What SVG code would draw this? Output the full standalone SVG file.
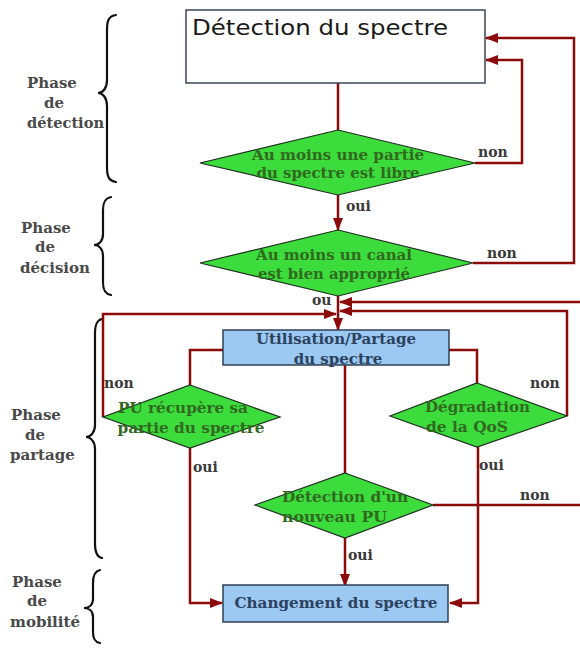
<svg xmlns="http://www.w3.org/2000/svg" width="580" height="648" viewBox="0 0 580 648">
<defs>
<marker id="ah" markerUnits="userSpaceOnUse" markerWidth="13" markerHeight="10" refX="12" refY="5" orient="auto">
<path d="M0,0 L13,5 L0,10 z" fill="#8b0a0a"/>
</marker>
<style>
.c{fill:none;stroke:#8b0a0a;stroke-width:2.5}
.a{marker-end:url(#ah)}
.br{fill:none;stroke:#111;stroke-width:2.2;stroke-linecap:round}
.ph{font-family:"DejaVu Serif",serif;font-weight:bold;font-size:15px;fill:#4a4a4a}
.lb{font-family:"DejaVu Serif",serif;font-weight:bold;font-size:14px;fill:#3a3a3a}
.dm{fill:#3ddc3d;stroke:#1e2e1e;stroke-width:1.2}
.dt{font-family:"DejaVu Serif",serif;font-weight:bold;font-size:15px;fill:#2f6a1f}
.bx{fill:#9cc9f2;stroke:#2f3e55;stroke-width:1.5}
.bt{font-family:"DejaVu Serif",serif;font-weight:bold;font-size:15px;fill:#2b4260}
</style>
</defs>
<rect width="580" height="648" fill="#fff"/>

<g id="phases">
<path class="br" d="M116,15 C109,16 107,20 107,30 L107,80 C107,88 103,93 98,93 C103,93 107,98 107,106 L107,167 C107,177 109,181 116,182"/>
<text class="ph" x="27" y="88">Phase</text><text class="ph" x="44" y="108">de</text><text class="ph" x="27" y="128" textLength="77" lengthAdjust="spacingAndGlyphs">détection</text>
<path class="br" d="M111,197 C105,198 103,202 103,210 L103,234 C103,241 99,245 94,245 C99,245 103,249 103,256 L103,282 C103,290 105,294 111,295"/>
<text class="ph" x="21" y="233">Phase</text><text class="ph" x="35" y="252">de</text><text class="ph" x="20" y="273" textLength="70" lengthAdjust="spacingAndGlyphs">décision</text>
<path class="br" d="M102,319 C97,320 95,324 95,334 L95,425 C95,432 91,437 86,437 C91,437 95,442 95,449 L95,544 C95,553 97,557 102,558"/>
<text class="ph" x="11" y="420">Phase</text><text class="ph" x="25" y="440">de</text><text class="ph" x="10" y="460">partage</text>
<path class="br" d="M100,570 C95,571 93,575 93,583 L93,599 C93,605 89,608 84,608 C89,608 93,611 93,617 L93,632 C93,639 95,642 100,643"/>
<text class="ph" x="12" y="587">Phase</text><text class="ph" x="27" y="606">de</text><text class="ph" x="10" y="627" textLength="70" lengthAdjust="spacingAndGlyphs">mobilité</text>
</g>

<g id="connectors">
<path class="c" d="M338,83 V130"/>
<path class="c a" d="M338,195 V230"/>
<path class="c a" d="M475,163 H522 V60 H486"/>
<path class="c a" d="M473,263 H574 V38 H486"/>
<path class="c a" d="M338,296 V330"/>
<path class="c a" d="M580,302 H340"/>
<path class="c" d="M433,505 H580"/>
<path class="c a" d="M567,416 V311 H340"/>
<path class="c a" d="M103,417 V314 H336"/>
<path class="c" d="M223,350 H190 V385"/>
<path class="c" d="M449,350 H477 V383"/>
<path class="c" d="M345,365 V473"/>
<path class="c a" d="M190,448 V603 H222"/>
<path class="c a" d="M478,447 V603 H450"/>
<path class="c a" d="M345,538 V586"/>
<text class="lb" x="478" y="157">non</text>
<text class="lb" x="346" y="211">oui</text>
<text class="lb" x="487" y="258">non</text>
<text class="lb" x="312" y="305">ou</text>
<text class="lb" x="104" y="388">non</text>
<text class="lb" x="193" y="472">oui</text>
<text class="lb" x="530" y="388">non</text>
<text class="lb" x="479" y="470">oui</text>
<text class="lb" x="520" y="500">non</text>
<text class="lb" x="348" y="560">oui</text>
</g>

<g id="n-detection">
<rect x="186" y="10" width="299" height="73" fill="#fff" stroke="#3a4656" stroke-width="1.5"/>
<text x="192" y="35" font-family="'DejaVu Sans',sans-serif" font-size="21" fill="#1a1a1a" textLength="256" lengthAdjust="spacingAndGlyphs">Détection du spectre</text>
</g>

<g id="n-libre">
<polygon class="dm" points="338,130 475,163 338,195 200,163"/>
<text class="dt" x="338" y="160" text-anchor="middle" textLength="172" lengthAdjust="spacingAndGlyphs">Au moins une partie</text>
<text class="dt" x="338" y="178" text-anchor="middle" textLength="163" lengthAdjust="spacingAndGlyphs">du spectre est libre</text>
</g>

<g id="n-canal">
<polygon class="dm" points="338,230 473,263 338,296 200,263"/>
<text class="dt" x="334" y="260" text-anchor="middle" textLength="156" lengthAdjust="spacingAndGlyphs">Au moins un canal</text>
<text class="dt" x="334" y="279" text-anchor="middle" textLength="152" lengthAdjust="spacingAndGlyphs">est bien approprié</text>
</g>

<g id="n-utilisation">
<rect class="bx" x="223" y="330" width="226" height="35"/>
<text class="bt" x="336" y="344" text-anchor="middle" textLength="160" lengthAdjust="spacingAndGlyphs">Utilisation/Partage</text>
<text class="bt" x="338" y="364" text-anchor="middle">du spectre</text>
</g>

<g id="n-pu">
<polygon class="dm" points="190,385 280,417 190,448 103,417"/>
<text class="dt" x="183" y="413" text-anchor="middle" textLength="130" lengthAdjust="spacingAndGlyphs">PU récupère sa</text>
<text class="dt" x="191" y="433" text-anchor="middle" textLength="147" lengthAdjust="spacingAndGlyphs">partie du spectre</text>
</g>

<g id="n-qos">
<polygon class="dm" points="477,383 567,416 477,447 390,416"/>
<text class="dt" x="425" y="412" textLength="105" lengthAdjust="spacingAndGlyphs">Dégradation</text>
<text class="dt" x="426" y="432" textLength="82" lengthAdjust="spacingAndGlyphs">de la QoS</text>
</g>

<g id="n-nouveau">
<polygon class="dm" points="345,473 433,505 345,538 255,505"/>
<text class="dt" x="282" y="502" textLength="126" lengthAdjust="spacingAndGlyphs">Détection d'un</text>
<text class="dt" x="282" y="522" textLength="105" lengthAdjust="spacingAndGlyphs">nouveau PU</text>
</g>

<g id="n-changement">
<rect class="bx" x="223" y="585" width="225" height="37"/>
<text class="bt" x="336" y="608" text-anchor="middle" font-size="16" textLength="203" lengthAdjust="spacingAndGlyphs">Changement du spectre</text>
</g>
</svg>
